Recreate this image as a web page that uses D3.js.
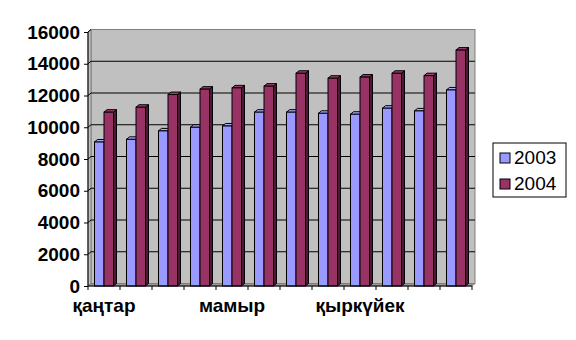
<!DOCTYPE html>
<html>
<head>
<meta charset="utf-8">
<script src="https://cdn.jsdelivr.net/npm/d3@7"></script>
<style>
  html, body { margin: 0; padding: 0; background: #ffffff; }
  svg { display: block; }
</style>
</head>
<body>
<svg id="chart" width="576" height="340"></svg>
<script>
// ---- data ----
const months = ["қаңтар","ақпан","наурыз","сәуір","мамыр","маусым","шілде","тамыз","қыркүйек","қазан","қараша","желтоқсан"];
const shownLabels = ["қаңтар","мамыр","қыркүйек"];
const seriesNames = ["2003","2004"];
const values2003 = [9070, 9240, 9770, 10000, 10080, 10950, 10950, 10880, 10820, 11200, 11030, 12350];
const values2004 = [10950, 11260, 12060, 12400, 12480, 12590, 13400, 13090, 13160, 13400, 13250, 14860];
const yTicks = [0, 2000, 4000, 6000, 8000, 10000, 12000, 14000, 16000];

// ---- layout ----
const svg = d3.select("#chart");
const pLeft = 88, pRight = 472, pTop = 32, pBottom = 286;
const dx = 3, dy = -2.5; // 3D depth offset
const font = "'Liberation Sans', Arial, sans-serif";

const x = d3.scaleBand().domain(months).range([pLeft, pRight]).padding(0);
const xs = d3.scaleBand().domain(seriesNames).range([0, x.bandwidth()]).paddingInner(0).paddingOuter(0.684);
const y = d3.scaleLinear().domain([0, 16000]).range([pBottom, pTop]);

const colors = {
  "2003": { front: "#9999ff", top: "#aaaaff", side: "#6b6bb8" },
  "2004": { front: "#993366", top: "#a63d70", side: "#4d1a33" }
};
const pts = arr => arr.map(p => p.join(",")).join(" ");

// walls
const bx0 = pLeft + dx, bx1 = pRight + dx;
svg.append("rect").attr("x", bx0).attr("y", y(16000) + dy).attr("width", bx1 - bx0).attr("height", pBottom - pTop)
  .attr("fill", "#c0c0c0").attr("stroke", "#808080").attr("stroke-width", 1);
svg.append("polygon")
  .attr("points", pts([[pLeft, pTop], [bx0, pTop + dy], [bx0, pBottom + dy], [pLeft, pBottom]]))
  .attr("fill", "#c0c0c0").attr("stroke", "#808080").attr("stroke-width", 1);
// floor
svg.append("polygon")
  .attr("points", pts([[pLeft, pBottom], [bx0, pBottom + dy], [bx1, pBottom + dy], [pRight, pBottom]]))
  .attr("fill", "#969696").attr("stroke", "#808080").attr("stroke-width", 1);

// gridlines on back wall + left wall
const grid = svg.append("g");
yTicks.filter(t => t > 0).forEach(t => {
  const yb = y(t) + dy;
  grid.append("line").attr("x1", bx0).attr("x2", bx1).attr("y1", yb).attr("y2", yb)
    .attr("stroke", t === 16000 ? "#808080" : "#000").attr("stroke-width", 1);
  grid.append("line").attr("x1", pLeft).attr("x2", bx0).attr("y1", y(t)).attr("y2", yb)
    .attr("stroke", "#000").attr("stroke-width", 1);
});

// bars
const barsG = svg.append("g");
months.forEach((m, i) => {
  seriesNames.forEach((s, k) => {
    const v = (k === 0 ? values2003 : values2004)[i];
    const c = colors[s];
    const x0 = x(m) + xs(s), w = xs.bandwidth(), yt = y(v), yb = y(0);
    const g = barsG.append("g").attr("stroke", "#000").attr("stroke-width", 1);
    g.append("polygon").attr("points", pts([[x0 + w, yt], [x0 + w + dx, yt + dy], [x0 + w + dx, yb + dy], [x0 + w, yb]]))
      .attr("fill", c.side);
    g.append("polygon").attr("points", pts([[x0, yt], [x0 + dx, yt + dy], [x0 + w + dx, yt + dy], [x0 + w, yt]]))
      .attr("fill", c.top);
    g.append("rect").attr("x", x0).attr("y", yt).attr("width", w).attr("height", yb - yt).attr("fill", c.front);
  });
});

// y axis
const yAxis = d3.axisLeft(y).tickValues(yTicks).tickSize(4).tickPadding(4).tickFormat(d3.format("d"));
const yg = svg.append("g").attr("transform", `translate(${pLeft},0)`).call(yAxis);
yg.select(".domain").attr("stroke", "#000").attr("d", `M0,${pTop}V${pBottom}`);
yg.selectAll(".tick line").attr("stroke", "#000");
yg.selectAll("text").attr("font-family", font).attr("font-size", 19).attr("font-weight", "bold").attr("fill", "#000");

// x axis
const xAxis = d3.axisBottom(x).tickSize(0).tickPadding(13).tickFormat(d => shownLabels.includes(d) ? d : "");
const xg = svg.append("g").attr("transform", `translate(0,${pBottom})`).call(xAxis);
xg.select(".domain").attr("stroke", "#000").attr("d", `M${pLeft},0H${pRight}`);
xg.selectAll("text").attr("font-family", font).attr("font-size", 19).attr("font-weight", "bold").attr("fill", "#000");
// boundary tick marks
const boundaries = months.map(m => x(m)).concat([pRight]);
xg.selectAll("line.bt").data(boundaries).enter().append("line").attr("class", "bt")
  .attr("x1", d => d).attr("x2", d => d).attr("y1", 0).attr("y2", 4).attr("stroke", "#000");

// legend
const lg = svg.append("g").attr("transform", "translate(493,143)");
lg.append("rect").attr("x", 0).attr("y", 0).attr("width", 73).attr("height", 54).attr("fill", "#fff").attr("stroke", "#000");
seriesNames.forEach((s, k) => {
  lg.append("rect").attr("x", 7).attr("y", 10 + k * 26).attr("width", 10).attr("height", 10)
    .attr("fill", colors[s].front).attr("stroke", "#000");
  lg.append("text").attr("x", 21).attr("y", 20.5 + k * 26).text(s)
    .attr("font-family", font).attr("font-size", 19).attr("fill", "#000");
});
</script>
</body>
</html>
